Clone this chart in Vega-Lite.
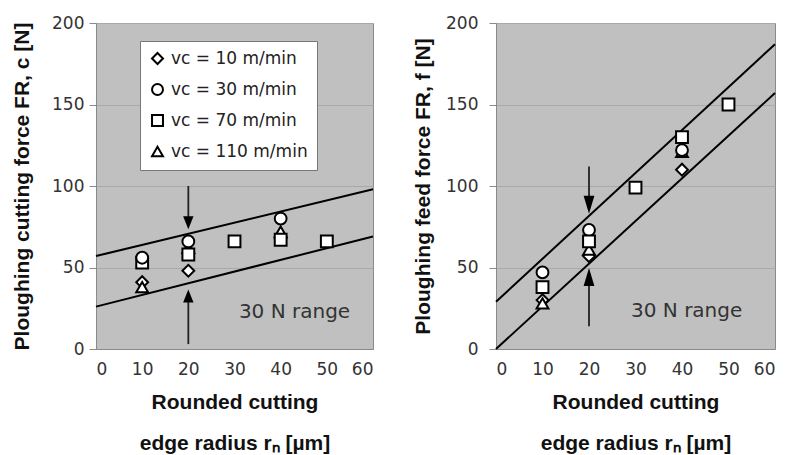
{
  "$schema": "https://vega.github.io/schema/vega-lite/v6.json",
  "background": "white",
  "padding": {"top": 13, "left": 11, "right": 0, "bottom": 0},
  "spacing": 34,
  "datasets": {
    "leftPts": [
      {"x": 10, "y": 41, "series": "vc = 10 m/min"},
      {"x": 20, "y": 48, "series": "vc = 10 m/min"},
      {"x": 40, "y": 68, "series": "vc = 10 m/min"},
      {"x": 10, "y": 38, "series": "vc = 110 m/min"},
      {"x": 20, "y": 62, "series": "vc = 110 m/min"},
      {"x": 40, "y": 72, "series": "vc = 110 m/min"},
      {"x": 10, "y": 53, "series": "vc = 70 m/min"},
      {"x": 20, "y": 58, "series": "vc = 70 m/min"},
      {"x": 30, "y": 66, "series": "vc = 70 m/min"},
      {"x": 40, "y": 67, "series": "vc = 70 m/min"},
      {"x": 50, "y": 66, "series": "vc = 70 m/min"},
      {"x": 10, "y": 56, "series": "vc = 30 m/min"},
      {"x": 20, "y": 66, "series": "vc = 30 m/min"},
      {"x": 40, "y": 80, "series": "vc = 30 m/min"}
    ],
    "rightPts": [
      {"x": 10, "y": 30, "series": "vc = 10 m/min"},
      {"x": 20, "y": 57, "series": "vc = 10 m/min"},
      {"x": 40, "y": 110, "series": "vc = 10 m/min"},
      {"x": 10, "y": 28, "series": "vc = 110 m/min"},
      {"x": 20, "y": 61, "series": "vc = 110 m/min"},
      {"x": 40, "y": 121, "series": "vc = 110 m/min"},
      {"x": 10, "y": 47, "series": "vc = 30 m/min"},
      {"x": 20, "y": 73, "series": "vc = 30 m/min"},
      {"x": 40, "y": 122, "series": "vc = 30 m/min"},
      {"x": 10, "y": 38, "series": "vc = 70 m/min"},
      {"x": 20, "y": 66, "series": "vc = 70 m/min"},
      {"x": 30, "y": 99, "series": "vc = 70 m/min"},
      {"x": 40, "y": 130, "series": "vc = 70 m/min"},
      {"x": 50, "y": 150, "series": "vc = 70 m/min"}
    ],
    "leftLines": [
      {"x": 0, "y": 57, "line": "upper"},
      {"x": 60, "y": 98, "line": "upper"},
      {"x": 0, "y": 26, "line": "lower"},
      {"x": 60, "y": 69, "line": "lower"}
    ],
    "rightLines": [
      {"x": 0, "y": 29, "line": "upper"},
      {"x": 60, "y": 187, "line": "upper"},
      {"x": 0, "y": 0, "line": "lower"},
      {"x": 60, "y": 157, "line": "lower"}
    ],
    "leftShafts": [
      {"x": 20, "y": 100, "y2": 80},
      {"x": 20, "y": 3, "y2": 30}
    ],
    "leftHeads": [
      {"x": 20, "y": 77.5, "dir": "down"},
      {"x": 20, "y": 32.5, "dir": "up"}
    ],
    "rightShafts": [
      {"x": 20, "y": 112, "y2": 92},
      {"x": 20, "y": 14, "y2": 42}
    ],
    "rightHeads": [
      {"x": 20, "y": 88.5, "dir": "down"},
      {"x": 20, "y": 44.2, "dir": "up"}
    ],
    "leftNote": [{"x": 43, "y": 23, "label": "30 N range"}],
    "rightNote": [{"x": 41, "y": 23.5, "label": "30 N range"}]
  },
  "hconcat": [
    {
      "width": 277,
      "height": 326,
      "encoding": {
        "x": {"field": "x", "type": "quantitative", "scale": {"domain": [0, 60], "nice": false},
          "axis": {"values": [0, 10, 20, 30, 40, 50, 60], "grid": false, "ticks": false, "labelPadding": 12,
            "title": ["Rounded cutting", "edge radius rₙ [µm]"], "titleLineHeight": 41, "titlePadding": 14}},
        "y": {"field": "y", "type": "quantitative", "scale": {"domain": [0, 200], "nice": false},
          "axis": {"values": [0, 50, 100, 150, 200], "grid": true, "tickSize": 7, "labelPadding": 5,
            "title": "Ploughing cutting force FR, c [N]", "titlePadding": 19}}
      },
      "layer": [
        {"data": {"name": "leftLines"}, "mark": {"type": "line", "color": "black", "strokeWidth": 2},
          "encoding": {"detail": {"field": "line"}}},
        {"data": {"name": "leftShafts"}, "mark": {"type": "rule", "color": "#222", "strokeWidth": 1.8},
          "encoding": {"y2": {"field": "y2"}}},
        {"data": {"name": "leftHeads"}, "transform": [{"filter": "datum.dir === 'down'"}],
          "mark": {"type": "point", "shape": "M-0.8,-1L0.8,-1L0,1Z", "filled": true, "color": "black", "opacity": 1, "size": 169},
          "encoding": {}},
        {"data": {"name": "leftHeads"}, "transform": [{"filter": "datum.dir === 'up'"}],
          "mark": {"type": "point", "shape": "M-0.8,1L0.8,1L0,-1Z", "filled": true, "color": "black", "opacity": 1, "size": 169},
          "encoding": {}},
        {"data": {"name": "leftNote"}, "mark": {"type": "text", "fontSize": 20, "color": "#333", "font": "DejaVu Sans"},
          "encoding": {"text": {"field": "label"}}},
        {"data": {"name": "leftPts"},
          "mark": {"type": "point", "filled": true, "fill": "white", "stroke": "black", "strokeWidth": 2, "size": 140},
          "encoding": {
            "shape": {"field": "series", "type": "nominal",
              "scale": {"domain": ["vc = 10 m/min", "vc = 30 m/min", "vc = 70 m/min", "vc = 110 m/min"],
                "range": ["diamond", "circle", "square", "triangle-up"]},
              "legend": {"orient": "none", "legendX": 44, "legendY": 18, "title": null, "fillColor": "white",
                "labelFontSize": 17, "labelFont": "DejaVu Sans", "labelColor": "#222"}}
          }}
      ]
    },
    {
      "width": 279,
      "height": 326,
      "encoding": {
        "x": {"field": "x", "type": "quantitative", "scale": {"domain": [0, 60], "nice": false},
          "axis": {"values": [0, 10, 20, 30, 40, 50, 60], "grid": false, "ticks": false, "labelPadding": 12,
            "title": ["Rounded cutting", "edge radius rₙ [µm]"], "titleLineHeight": 41, "titlePadding": 14}},
        "y": {"field": "y", "type": "quantitative", "scale": {"domain": [0, 200], "nice": false},
          "axis": {"values": [0, 50, 100, 150, 200], "grid": true, "tickSize": 7, "labelPadding": 11,
            "title": "Ploughing feed force FR, f [N]", "titlePadding": 12}}
      },
      "layer": [
        {"data": {"name": "rightLines"}, "mark": {"type": "line", "color": "black", "strokeWidth": 2},
          "encoding": {"detail": {"field": "line"}}},
        {"data": {"name": "rightShafts"}, "mark": {"type": "rule", "color": "#222", "strokeWidth": 1.8},
          "encoding": {"y2": {"field": "y2"}}},
        {"data": {"name": "rightHeads"}, "transform": [{"filter": "datum.dir === 'down'"}],
          "mark": {"type": "point", "shape": "M-0.6,-1L0.6,-1L0,1Z", "filled": true, "color": "black", "opacity": 1, "size": 324},
          "encoding": {}},
        {"data": {"name": "rightHeads"}, "transform": [{"filter": "datum.dir === 'up'"}],
          "mark": {"type": "point", "shape": "M-0.6,1L0.6,1L0,-1Z", "filled": true, "color": "black", "opacity": 1, "size": 324},
          "encoding": {}},
        {"data": {"name": "rightNote"}, "mark": {"type": "text", "fontSize": 20, "color": "#333", "font": "DejaVu Sans"},
          "encoding": {"text": {"field": "label"}}},
        {"data": {"name": "rightPts"},
          "mark": {"type": "point", "filled": true, "fill": "white", "stroke": "black", "strokeWidth": 2, "opacity": 1, "size": 140},
          "encoding": {
            "shape": {"field": "series", "type": "nominal",
              "scale": {"domain": ["vc = 10 m/min", "vc = 30 m/min", "vc = 70 m/min", "vc = 110 m/min"],
                "range": ["diamond", "circle", "square", "triangle-up"]},
              "legend": null}
          }}
      ]
    }
  ],
  "resolve": {"scale": {"shape": "independent"}, "legend": {"shape": "independent"}},
  "config": {
    "font": "Liberation Sans",
    "view": {"fill": "#c0c0c0", "stroke": "#8a8a8a", "strokeWidth": 1},
    "point": {"opacity": 1},
    "legend": {"strokeColor": "#777", "padding": 9, "rowPadding": 12, "labelOffset": 5, "symbolSize": 120, "symbolStrokeWidth": 2},
    "axis": {
      "labelFont": "DejaVu Sans", "labelFontSize": 17, "labelColor": "#333",
      "titleFont": "Liberation Sans", "titleFontSize": 21, "titleFontWeight": "bold", "titleColor": "#111",
      "domainColor": "#8a8a8a", "tickColor": "#8a8a8a", "gridColor": "#a9a9a9", "gridWidth": 1
    }
  }
}
